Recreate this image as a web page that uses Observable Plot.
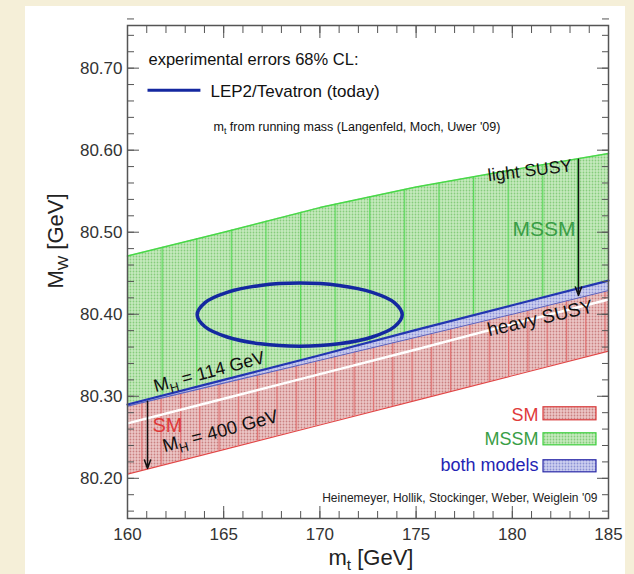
<!DOCTYPE html>
<html><head><meta charset="utf-8">
<script src="https://cdn.jsdelivr.net/npm/d3@7"></script>
<script src="https://cdn.jsdelivr.net/npm/@observablehq/plot@0.6"></script>
<style>
body{margin:0;background:#f5efd8;width:634px;height:574px;overflow:hidden;position:relative;font-family:"Liberation Sans",Arial,sans-serif;}
#panel{position:absolute;left:25px;top:6px;width:600px;height:590px;background:#fff;}
#chart{position:absolute;left:0;top:0;}
</style></head><body>
<div id="panel"></div><div id="chart"></div>
<script>
// ---- data ----
const mt        = [160, 165, 170, 175, 180, 185];
const mssmUpper = [80.471, 80.500, 80.530, 80.555, 80.576, 80.596];
const smUpper   = [80.290, 80.320, 80.350, 80.381, 80.411, 80.441];   // M_H = 114 GeV
const mssmLower = [80.288, 80.316, 80.344, 80.372, 80.400, 80.429];
const smLower   = [80.205, 80.235, 80.265, 80.295, 80.325, 80.355];   // M_H = 400 GeV
const whiteLine = [80.267, 80.297, 80.327, 80.357, 80.388, 80.418];

const ellipseMt = [174.28, 173.87, 172.72, 170.99, 168.95, 166.91, 165.18, 164.03,
                   163.62, 164.03, 165.18, 166.91, 168.95, 170.99, 172.72, 173.87];
const ellipseMw = [80.3995, 80.4142, 80.4267, 80.4351, 80.4380, 80.4351, 80.4267, 80.4142,
                   80.3995, 80.3848, 80.3723, 80.3639, 80.3610, 80.3639, 80.3723, 80.3848];

const xTicks = [160, 165, 170, 175, 180, 185];
const yTicks = [80.2, 80.3, 80.4, 80.5, 80.6, 80.7];
const xMinor = d3.range(160, 186, 1);
const yMinor = d3.range(0, 31).map(i => +(80.16 + i * 0.02).toFixed(2));

const legendLabels = ["SM", "MSSM", "both models"];

// ---- tables ----
const bands = mt.map((m, i) => ({mt: m, mssmUpper: mssmUpper[i], smUpper: smUpper[i],
  mssmLower: mssmLower[i], smLower: smLower[i], white: whiteLine[i]}));
const ellipse = ellipseMt.map((m, i) => ({mt: m, mw: ellipseMw[i]}));

// ---- annotation layout (data units) ----
const arrows = [
  {x1: 183.44, y1: 80.589, x2: 183.44, y2: 80.423},
  {x1: 161.04, y1: 80.294, x2: 161.04, y2: 80.212}
];
const legendBoxes = [
  {y1: 80.2707, y2: 80.2866, fill: "url(#dotRed)", stroke: "#d83a3a", color: "#e03a3a", ty: 80.2695},
  {y1: 80.2402, y2: 80.2549, fill: "url(#dotGreen)", stroke: "#3fd03f", color: "#3a9e46", ty: 80.2402},
  {y1: 80.2073, y2: 80.2220, fill: "url(#dotBlue)", stroke: "#2a2aa8", color: "#2424b4", ty: 80.2085}
];

function patterns() {
  const defs = d3.create("svg:defs");
  function dots(id, bg, dot) {
    const p = defs.append("pattern").attr("id", id).attr("patternUnits", "userSpaceOnUse")
      .attr("width", 3).attr("height", 3);
    p.append("rect").attr("width", 3).attr("height", 3).attr("fill", bg);
    p.append("circle").attr("cx", 1.5).attr("cy", 1.5).attr("r", 0.9).attr("fill", dot);
  }
  function stripes(id, w, x0, color) {
    const p = defs.append("pattern").attr("id", id).attr("patternUnits", "userSpaceOnUse")
      .attr("x", x0).attr("width", w).attr("height", 10);
    p.append("rect").attr("x", 0).attr("width", 1.2).attr("height", 10).attr("fill", color);
  }
  dots("dotGreen", "#c6eabe", "#86cc7c");
  dots("dotRed", "#ecc6c6", "#c98080");
  dots("dotBlue", "#cdd0f0", "#8c92d4");
  stripes("lineGreen", 34.6, 127, "#5ada5a");
  stripes("lineRed", 19.3, 122, "#e07070");
  return defs.node();
}

const F = "Liberation Sans, Arial, sans-serif";
const tickStroke = "#555";

const svg = Plot.plot({
  width: 634, height: 574,
  marginLeft: 127, marginRight: 26, marginTop: 25, marginBottom: 56,
  x: {domain: [160, 185], label: null},
  y: {domain: [80.151, 80.752], label: null},
  style: {background: "transparent", fontFamily: F, overflow: "visible"},
  marks: [
    patterns,
    // bands
    Plot.areaY(bands, {x: "mt", y1: "smLower", y2: "mssmLower", fill: "url(#dotRed)"}),
    Plot.areaY(bands, {x: "mt", y1: "smLower", y2: "mssmLower", fill: "url(#lineRed)"}),
    Plot.areaY(bands, {x: "mt", y1: "smUpper", y2: "mssmUpper", fill: "url(#dotGreen)"}),
    Plot.areaY(bands, {x: "mt", y1: "smUpper", y2: "mssmUpper", fill: "url(#lineGreen)"}),
    Plot.areaY(bands, {x: "mt", y1: "mssmLower", y2: "smUpper", fill: "url(#dotBlue)"}),
    Plot.line(bands, {x: "mt", y: "white", stroke: "white", strokeWidth: 2.5}),
    Plot.line(bands, {x: "mt", y: "mssmUpper", stroke: "#48d848", strokeWidth: 1.5}),
    Plot.line(bands, {x: "mt", y: "smLower", stroke: "#e04848", strokeWidth: 1.2}),
    Plot.line(bands, {x: "mt", y: "mssmLower", stroke: "#5a66c4", strokeWidth: 1.1}),
    Plot.line(bands, {x: "mt", y: "smUpper", stroke: "#2236b0", strokeWidth: 2.2}),
    // experimental ellipse
    Plot.line(ellipse, {x: "mt", y: "mw", curve: "catmull-rom-closed", stroke: "#1428a0", strokeWidth: 3.5}),
    // arrows
    Plot.arrow(arrows, {x1: "x1", y1: "y1", x2: "x2", y2: "y2", stroke: "#111", strokeWidth: 1.5, headLength: 9, headAngle: 40}),
    // top-left legend
    Plot.text(["experimental errors 68% CL:"], {x: 161.09, y: 80.7037, text: d => d, textAnchor: "start", lineAnchor: "bottom", fontSize: 16.5, fill: "#111"}),
    Plot.link([0], {x1: 161.04, x2: 163.79, y1: 80.6732, y2: 80.6732, stroke: "#1428a0", strokeWidth: 3}),
    Plot.text(["LEP2/Tevatron (today)"], {x: 164.31, y: 80.6646, text: d => d, textAnchor: "start", lineAnchor: "bottom", fontSize: 17, fill: "#111"}),
    Plot.text(["m_{t} from running mass (Langenfeld, Moch, Uwer '09)"], {x: 164.47, y: 80.6232, text: d => d, textAnchor: "start", lineAnchor: "bottom", fontSize: 12.5, fill: "#111"}),
    // in-plot labels
    Plot.text(["light SUSY"], {x: 180.95, y: 80.5683, text: d => d, textAnchor: "middle", lineAnchor: "bottom", rotate: -7, fontSize: 17.5, fill: "#111"}),
    Plot.text(["MSSM"], {x: 183.28, y: 80.4951, text: d => d, textAnchor: "end", lineAnchor: "bottom", fontSize: 21, fill: "#3a9e46"}),
    Plot.text(["heavy SUSY"], {x: 181.52, y: 80.3878, text: d => d, textAnchor: "middle", lineAnchor: "bottom", rotate: -13, fontSize: 19, fill: "#111"}),
    Plot.text(["M_{H} = 114 GeV"], {x: 161.455, y: 80.3049, text: d => d, textAnchor: "start", lineAnchor: "bottom", rotate: -15, fontSize: 18, fill: "#111"}),
    Plot.text(["SM"], {x: 161.30, y: 80.2561, text: d => d, textAnchor: "start", lineAnchor: "bottom", fontSize: 20, fill: "#e03a3a"}),
    Plot.text(["M_{H} = 400 GeV"], {x: 161.92, y: 80.2317, text: d => d, textAnchor: "start", lineAnchor: "bottom", rotate: -15, fontSize: 18.5, fill: "#111"}),
    // bottom-right legend
    legendBoxes.map((b, i) => [
      Plot.rect([b], {x1: 181.622, x2: 184.376, y1: "y1", y2: "y2", fill: b.fill, stroke: b.stroke, strokeWidth: 1.2}),
      Plot.text([legendLabels[i]], {x: 181.362, y: b.ty, text: d => d, textAnchor: "end", lineAnchor: "bottom", fontSize: 18, fill: b.color})
    ]),
    Plot.text(["Heinemeyer, Hollik, Stockinger, Weber, Weiglein '09"], {x: 184.43, y: 80.1707, text: d => d, textAnchor: "end", lineAnchor: "bottom", fontSize: 12, fill: "#222"}),
    // axes: inward ticks on all sides
    Plot.axisX({anchor: "bottom", ticks: xTicks, tickSize: -12, fill: "none", stroke: tickStroke, label: null}),
    Plot.axisX({anchor: "bottom", ticks: xMinor, tickSize: -7, fill: "none", stroke: tickStroke, label: null}),
    Plot.axisX({anchor: "top", ticks: xTicks, tickSize: -12, fill: "none", stroke: tickStroke, label: null}),
    Plot.axisX({anchor: "top", ticks: xMinor, tickSize: -7, fill: "none", stroke: tickStroke, label: null}),
    Plot.axisY({anchor: "left", ticks: yTicks, tickSize: -12, fill: "none", stroke: tickStroke, label: null}),
    Plot.axisY({anchor: "left", ticks: yMinor, tickSize: -7, fill: "none", stroke: tickStroke, label: null}),
    Plot.axisY({anchor: "right", ticks: yTicks, tickSize: -12, fill: "none", stroke: tickStroke, label: null}),
    Plot.axisY({anchor: "right", ticks: yMinor, tickSize: -7, fill: "none", stroke: tickStroke, label: null}),
    Plot.axisX({anchor: "bottom", ticks: xTicks, tickSize: 0, tickPadding: 9, fontSize: 17, fill: "#333", label: null}),
    Plot.axisY({anchor: "left", ticks: yTicks, tickSize: 0, tickPadding: 5, fontSize: 17, fill: "#333", tickFormat: d3.format(".2f"), label: null}),
    Plot.frame({stroke: "#555", strokeWidth: 1.5}),
    // axis titles
    Plot.text(["m_{t} [GeV]"], {frameAnchor: "bottom", dx: 3, dy: 46, text: d => d, textAnchor: "middle", lineAnchor: "bottom", fontSize: 22, fill: "#222"}),
    Plot.text(["M_{W} [GeV]"], {frameAnchor: "left", dx: -65, dy: -31, text: d => d, textAnchor: "middle", lineAnchor: "bottom", rotate: -90, fontSize: 22, fill: "#222"})
  ]
});

// subscripts written as _{...}
d3.select(svg).selectAll("text").each(function () {
  const s = this.textContent;
  if (!s.includes("_{")) return;
  const parts = s.split(/_\{([^}]*)\}/);
  const sel = d3.select(this);
  sel.text(null);
  let down = false;
  parts.forEach((t, i) => {
    if (i % 2 === 1) {
      sel.append("tspan").attr("font-size", "70%").attr("dy", "0.35em").text(t);
      down = true;
    } else if (t) {
      const ts = sel.append("tspan").text(t);
      if (down) { ts.attr("dy", "-0.245em"); down = false; }
    }
  });
});

document.getElementById("chart").appendChild(svg);
</script>
</body></html>
